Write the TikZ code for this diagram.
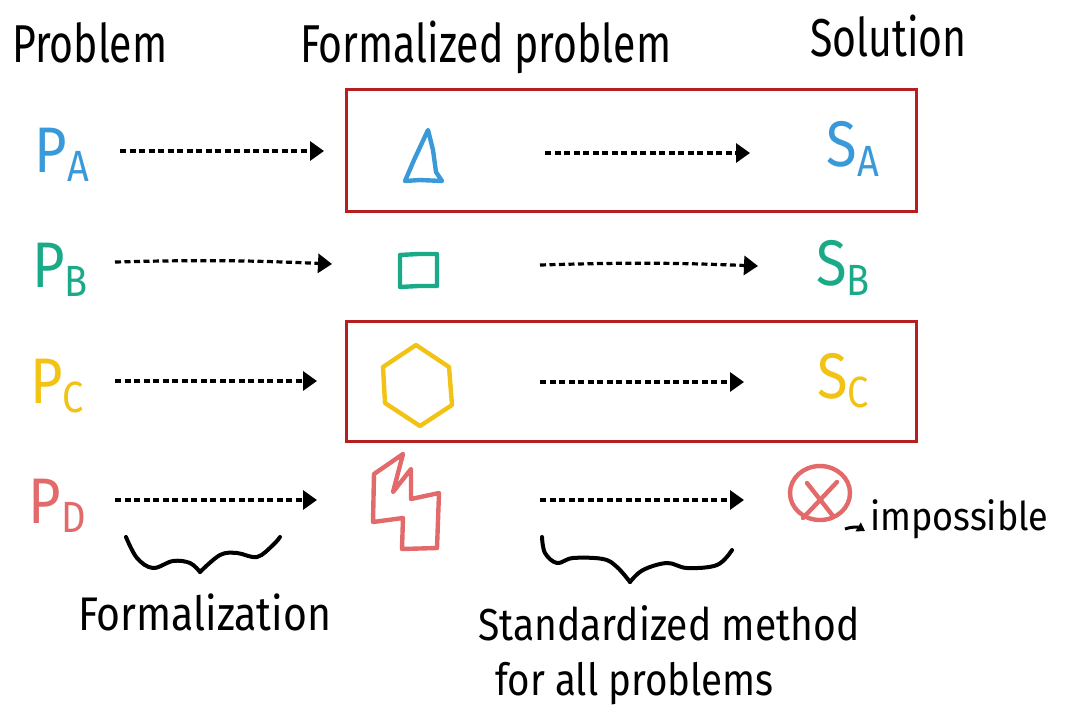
\documentclass[tikz,border=0pt]{standalone}
\usepackage{fontspec}
\setmainfont{Fira Sans}
\usetikzlibrary{arrows.meta}
\definecolor{cblue}{HTML}{3A9AD9}
\definecolor{cgreen}{HTML}{1AAA88}
\definecolor{cyellow}{HTML}{F2C314}
\definecolor{cred}{HTML}{E26A6A}
\definecolor{boxred}{HTML}{B51F1F}
\newcommand\tall[2][1.3]{\scalebox{1}[#1]{#2}}
\newcommand\lbl[2]{\tall[1.15]{{\fontsize{56}{58}\selectfont #1}\raisebox{-8pt}{\fontsize{38}{40}\selectfont #2}}}
\begin{document}
\begin{tikzpicture}[x=1pt,y=-1pt,
  dashar/.style={line width=3.2pt, dash pattern=on 6pt off 3.5pt, -{Triangle[length=14pt,width=19pt]}},
  redbox/.style={draw=boxred, line width=3.4pt},
  shapeline/.style={line width=4.4pt, line join=round, line cap=round},
  brace/.style={line width=4pt, line cap=round, line join=round},
  head/.style={inner sep=0pt, anchor=base west, font=\fontsize{41}{48}\selectfont},
  lab/.style={inner sep=0pt},
  note/.style={inner sep=0pt, anchor=base west}]
\useasboundingbox (0,0) rectangle (1065,716);

% headings
\node[head] (hProb) at (12,62) {\tall{Problem}};
\node[head] (hForm) at (300,62) {\tall{Formalized problem}};
\node[head] (hSol) at (810,56) {\tall{Solution}};

% red boxes
\node[redbox, minimum width=570pt, minimum height=122pt, anchor=north west] (boxA) at (345,88) {};
\node[redbox, minimum width=570pt, minimum height=120pt, anchor=north west] (boxC) at (345,320) {};

% problem labels
\node[lab, text=cblue] (pA) at (62,155) {\lbl{P}{A}};
\node[lab, text=cgreen] (pB) at (60,270) {\lbl{P}{B}};
\node[lab, text=cyellow] (pC) at (57,386) {\lbl{P}{C}};
\node[lab, text=cred] (pD) at (57,506) {\lbl{P}{D}};

% solution labels
\node[lab, text=cblue] (sA) at (853,149) {\lbl{S}{A}};
\node[lab, text=cgreen] (sB) at (843,268) {\lbl{S}{B}};
\node[lab, text=cyellow] (sC) at (843,381) {\lbl{S}{C}};

% formalized shapes
\draw[shapeline, cblue] (428,130) -- (433,150) -- (436,172) -- (442,181) -- (420,180) -- (405,181) -- (414,160) -- cycle;
\coordinate (fA) at (423,160);
\draw[shapeline, cgreen] (400,255) -- (418,254) -- (437,254) -- (437,286) -- (418,286) -- (400,287) -- cycle;
\coordinate (fB) at (418,270);
\draw[shapeline, cyellow] (416,345) -- (449,367) -- (452,405) -- (420,426) -- (385,403) -- (383,367) -- cycle;
\coordinate (fC) at (418,385);
\draw[shapeline, cred] (374,474) -- (403,454) -- (393,492) -- (411,469) -- (411,499) -- (439,493) -- (437,548) -- (402,549) -- (403,518) -- (373,522) -- cycle;
\coordinate (fD) at (405,500);

% crossed circle
\draw[shapeline, cred] (820,493) ellipse [x radius=30pt, y radius=27pt];
\draw[shapeline, cred] (807,483) -- (833,516);
\draw[shapeline, cred] (837,482) -- (803,518);
\coordinate (sD) at (820,493);

% arrow end points
\coordinate (a1s) at (120,151); \coordinate (a1e) at (324,151);
\coordinate (a2s) at (545,153); \coordinate (a2e) at (750,153);
\coordinate (b1s) at (115,262); \coordinate (b1e) at (332,264);
\coordinate (b2s) at (540,265); \coordinate (b2e) at (758,266);
\coordinate (c1s) at (115,381); \coordinate (c1e) at (317,381);
\coordinate (c2s) at (540,382); \coordinate (c2e) at (744,382);
\coordinate (d1s) at (115,500); \coordinate (d1e) at (317,500);
\coordinate (d2s) at (540,500); \coordinate (d2e) at (744,500);

\draw[dashar] (a1s) -- (a1e);
\draw[dashar] (a2s) -- (a2e);
\draw[dashar] (b1s) to[bend left=2] (b1e);
\draw[dashar] (b2s) to[bend left=2] (b2e);
\draw[dashar] (c1s) -- (c1e);
\draw[dashar] (c2s) -- (c2e);
\draw[dashar] (d1s) -- (d1e);
\draw[dashar] (d2s) -- (d2e);

% impossible
\coordinate (impS) at (845,529);
\coordinate (impE) at (865,531);
\draw[line width=3pt, -{Triangle[length=8pt,width=10pt]}] (impS) to[bend left=25] (impE);
\node[inner sep=0pt, anchor=base west, font=\fontsize{36}{40}\selectfont] (imp) at (870,530) {\tall[1.1]{impossible}};

% braces
\draw[brace] plot[smooth, tension=0.6] coordinates {(126,537) (137,558) (153,568) (173,561) (190,563) (200,572)};
\draw[brace] plot[smooth, tension=0.6] coordinates {(200,572) (220,555) (237,553) (257,557) (273,545) (280,537)};
\draw[brace] plot[smooth, tension=0.6] coordinates {(542,537) (545,553) (557,563) (573,558) (603,559) (617,567) (630,582)};
\draw[brace] plot[smooth, tension=0.6] coordinates {(630,582) (643,570) (667,563) (687,568) (717,565) (732,550)};

% bottom notes
\node[note, font=\fontsize{41}{46}\selectfont] (nForm) at (78,630) {\tall[1.15]{Formalization}};
\node[note, font=\fontsize{39}{44}\selectfont] (nStd) at (478,640) {\tall[1.15]{Standardized method}};
\node[note, font=\fontsize{38.5}{44}\selectfont] (nAll) at (495,695) {\tall[1.15]{for all problems}};
\end{tikzpicture}
\end{document}
